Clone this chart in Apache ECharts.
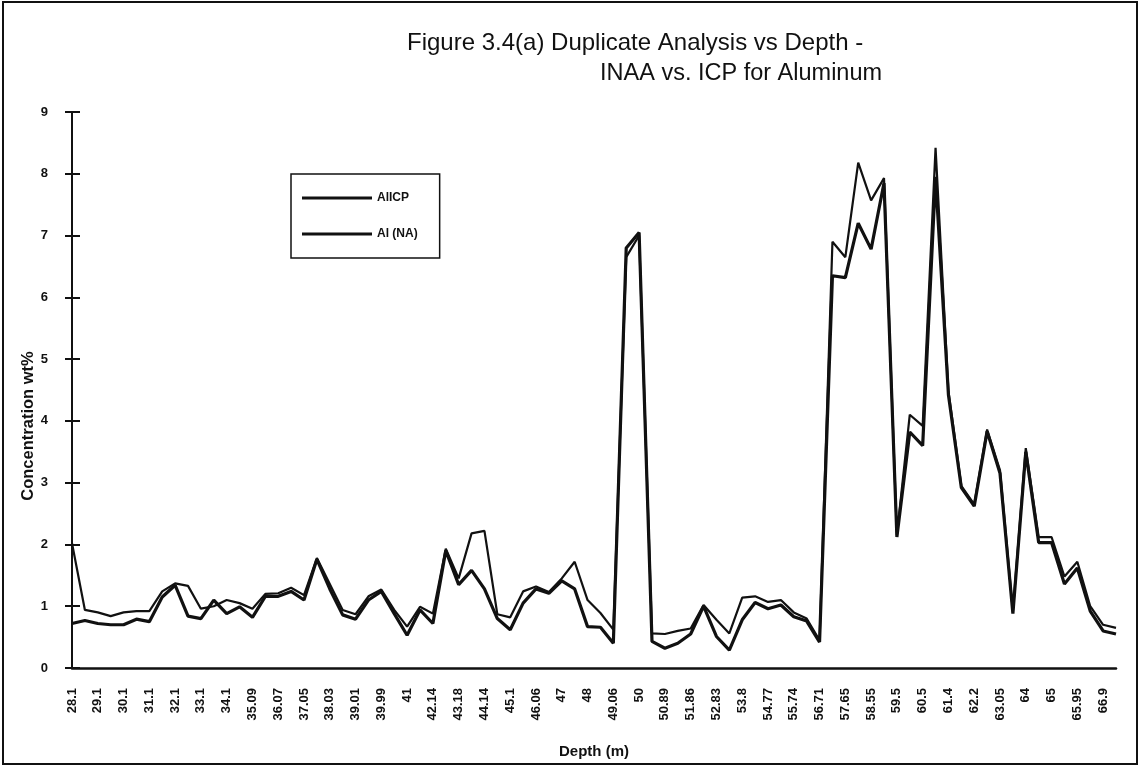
<!DOCTYPE html>
<html>
<head>
<meta charset="utf-8">
<title>Duplicate Analysis vs Depth</title>
<script src="https://cdn.jsdelivr.net/npm/echarts@6/dist/echarts.min.js"></script>
<style>
  html, body { margin: 0; padding: 0; background: #fff; }
  #chart { width: 1141px; height: 768px; }
</style>
</head>
<body>
<div id="chart"></div>
<script>
// Sample depths (m); every other one is labelled on the axis
const depths = [
  '28.1', '28.6', '29.1', '29.6', '30.1', '30.6', '31.1', '31.6', '32.1', '32.6',
  '33.1', '33.6', '34.1', '34.6', '35.09', '35.58', '36.07', '36.56', '37.05', '37.54',
  '38.03', '38.52', '39.01', '39.5', '39.99', '40.5', '41', '41.57', '42.14', '42.66',
  '43.18', '43.66', '44.14', '44.62', '45.1', '45.58', '46.06', '46.53', '47', '47.5',
  '48', '48.53', '49.06', '49.53', '50', '50.45', '50.89', '51.38', '51.86', '52.35',
  '52.83', '53.32', '53.8', '54.29', '54.77', '55.26', '55.74', '56.23', '56.71', '57.18',
  '57.65', '58.1', '58.55', '59.03', '59.5', '60', '60.5', '60.95', '61.4', '61.8',
  '62.2', '62.63', '63.05', '63.53', '64', '64.5', '65', '65.48', '65.95', '66.43',
  '66.9', '67.4'
];

// Al by ICP (wt%)
const alICP = [
  0.72, 0.77, 0.72, 0.70, 0.70, 0.79, 0.75, 1.15, 1.34, 0.84,
  0.80, 1.10, 0.88, 0.99, 0.82, 1.16, 1.16, 1.24, 1.10, 1.76,
  1.28, 0.86, 0.79, 1.10, 1.24, 0.88, 0.53, 0.94, 0.72, 1.90,
  1.35, 1.58, 1.28, 0.80, 0.62, 1.05, 1.28, 1.21, 1.41, 1.28,
  0.67, 0.66, 0.40, 6.80, 7.05, 0.43, 0.32, 0.40, 0.55, 1.00,
  0.51, 0.29, 0.78, 1.06, 0.96, 1.02, 0.83, 0.76, 0.42, 6.35,
  6.32, 7.20, 6.78, 7.85, 2.12, 3.82, 3.60, 7.95, 4.42, 2.92,
  2.62, 3.83, 3.15, 0.88, 3.50, 2.03, 2.03, 1.36, 1.62, 0.92,
  0.60, 0.55
];

// Al by neutron activation (wt%)
const alNA = [
  2.02, 0.94, 0.90, 0.84, 0.90, 0.92, 0.92, 1.24, 1.37, 1.33,
  0.96, 1.00, 1.10, 1.05, 0.96, 1.20, 1.21, 1.30, 1.18, 1.78,
  1.36, 0.94, 0.87, 1.16, 1.27, 0.94, 0.67, 0.99, 0.88, 1.93,
  1.45, 2.18, 2.22, 0.87, 0.82, 1.24, 1.32, 1.23, 1.45, 1.72,
  1.10, 0.89, 0.62, 6.65, 7.00, 0.56, 0.55, 0.60, 0.64, 1.02,
  0.78, 0.56, 1.14, 1.16, 1.07, 1.10, 0.90, 0.80, 0.45, 6.90,
  6.65, 8.18, 7.57, 7.93, 2.15, 4.10, 3.92, 8.42, 4.48, 2.95,
  2.65, 3.86, 3.20, 0.92, 3.56, 2.12, 2.12, 1.48, 1.72, 1.00,
  0.70, 0.65
];

const titleLines = ['Figure 3.4(a) Duplicate Analysis vs Depth -', 'INAA vs. ICP for Aluminum'];
const seriesNames = ['AlICP', 'Al (NA)'];
const xAxisTitle = 'Depth (m)';
const yAxisTitle = 'Concentration wt%';

const FONT = '"Liberation Sans", Arial, Helvetica, sans-serif';
const INK = '#111';

const chart = echarts.init(document.getElementById('chart'), null, { renderer: 'canvas' });

const valueAxisBase = {
  type: 'value',
  min: 0,
  max: 9,
  interval: 1,
  splitLine: { show: false }
};

chart.setOption({
  backgroundColor: '#fff',
  animation: false,
  title: [
    {
      text: titleLines[0],
      left: 407, top: 31, padding: 0,
      textStyle: { fontFamily: FONT, fontSize: 24, fontWeight: 'normal', color: INK }
    },
    {
      text: titleLines[1],
      left: 600, top: 62, padding: 0,
      textStyle: { fontFamily: FONT, fontSize: 23.5, fontWeight: 'normal', color: INK }
    }
  ],
  legend: {
    data: seriesNames,
    orient: 'vertical',
    left: 291, top: 174,
    padding: [18, 22, 18, 11],
    itemGap: 24,
    itemWidth: 70,
    itemHeight: 3,
    icon: 'rect',
    borderColor: INK,
    borderWidth: 1.5,
    textStyle: { fontFamily: FONT, fontSize: 12, fontWeight: 'bold', color: INK }
  },
  grid: { left: 72, right: 25, top: 112, bottom: 100, containLabel: false },
  xAxis: {
    type: 'category',
    data: depths,
    boundaryGap: false,
    name: xAxisTitle,
    nameLocation: 'middle',
    nameGap: 76,
    nameTextStyle: { fontFamily: FONT, fontSize: 15, fontWeight: 'bold', color: INK },
    axisLine: { lineStyle: { color: INK, width: 2.5 } },
    axisTick: { show: false },
    axisLabel: {
      interval: 1,
      rotate: 90,
      margin: 20,
      fontFamily: FONT, fontSize: 13, fontWeight: 'bold', color: INK
    }
  },
  yAxis: [
    Object.assign({}, valueAxisBase, {
      axisLine: { show: true, lineStyle: { color: INK, width: 2 } },
      axisTick: { show: true, length: 7, lineStyle: { color: INK, width: 2 } },
      axisLabel: { margin: 24, fontFamily: FONT, fontSize: 13, fontWeight: 'bold', color: INK }
    }),
    // inner half of the cross ticks
    Object.assign({}, valueAxisBase, {
      position: 'left',
      axisLine: { show: false },
      axisTick: { show: true, inside: true, length: 8, lineStyle: { color: INK, width: 2 } },
      axisLabel: { show: false }
    })
  ],
  series: [
    {
      name: seriesNames[0],
      type: 'line',
      data: alICP,
      symbol: 'none',
      yAxisIndex: 0,
      lineStyle: { color: INK, width: 3.2 },
      itemStyle: { color: INK }
    },
    {
      name: seriesNames[1],
      type: 'line',
      data: alNA,
      symbol: 'none',
      yAxisIndex: 0,
      lineStyle: { color: INK, width: 2.2 },
      itemStyle: { color: INK }
    }
  ],
  graphic: [
    {
      type: 'text',
      x: 28, y: 426,
      rotation: Math.PI / 2,
      style: {
        text: yAxisTitle,
        align: 'center',
        verticalAlign: 'middle',
        font: 'bold 16.5px ' + FONT,
        fill: INK
      },
      silent: true
    },
    {
      type: 'rect',
      shape: { x: 3, y: 2, width: 1134, height: 762 },
      style: { fill: null, stroke: INK, lineWidth: 2 },
      silent: true
    }
  ]
});
</script>
</body>
</html>
